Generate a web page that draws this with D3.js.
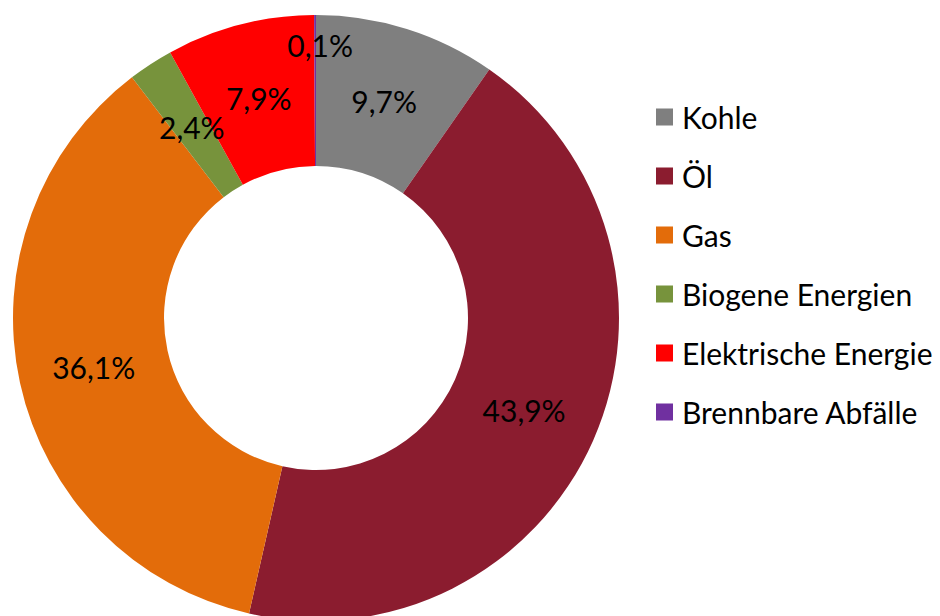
<!DOCTYPE html>
<html>
<head>
<meta charset="utf-8">
<script src="https://cdn.jsdelivr.net/npm/d3@7"></script>
<style>
  body { margin: 0; background: #fff; }
  svg { display: block; font-family: Lato, "Open Sans", sans-serif; }
</style>
</head>
<body>
<svg id="chart" width="940" height="616"></svg>
<script>
// Energieträger und Anteile (%)
const categories = ["Kohle", "Öl", "Gas", "Biogene Energien", "Elektrische Energie", "Brennbare Abfälle"];
const values = [9.7, 43.9, 36.1, 2.4, 7.9, 0.1];
const labels = ["9,7%", "43,9%", "36,1%", "2,4%", "7,9%", "0,1%"];
const palette = ["#7f7f7f", "#8b1c2f", "#e36c0a", "#77933c", "#ff0000", "#7030a0"];

const svg = d3.select("#chart"),
    cx = 316,
    cy = 318,
    outerR = 303,
    innerR = 152;

const data = categories.map((c, i) => ({ name: c, value: values[i], label: labels[i] }));

const color = d3.scaleOrdinal()
    .domain(categories)
    .range(palette);

const pie = d3.pie()
    .value(d => d.value)
    .sort(null);

const arc = d3.arc()
    .innerRadius(innerR)
    .outerRadius(outerR);

// labels of very thin slices are pushed outwards so they do not collide
const outerLabelArc = d3.arc()
    .innerRadius(outerR * 0.9)
    .outerRadius(outerR * 0.9);

const g = svg.append("g")
    .attr("transform", `translate(${cx}, ${cy})`);

const slices = pie(data);

g.selectAll("path")
    .data(slices)
    .join("path")
    .attr("d", arc)
    .attr("fill", d => color(d.data.name));

g.selectAll("text")
    .data(slices)
    .join("text")
    .attr("transform", d => {
        const p = d.data.value < 1 ? outerLabelArc.centroid(d) : arc.centroid(d);
        if (d.data.value < 1) p[0] += 5;
        return `translate(${p[0]}, ${p[1]})`;
    })
    .attr("text-anchor", "middle")
    .attr("dominant-baseline", "central")
    .style("font-size", "30px")
    .style("fill", "#000")
    .text(d => d.data.label);

// Legend
const legend = svg.append("g")
    .attr("transform", "translate(656, 117)");

categories.forEach((c, i) => {
    const row = legend.append("g")
        .attr("transform", `translate(0, ${i * 59})`);

    row.append("rect")
        .attr("y", -8.5)
        .attr("width", 17)
        .attr("height", 17)
        .attr("fill", color(c));

    row.append("text")
        .attr("x", 26)
        .attr("dominant-baseline", "central")
        .style("font-size", "30px")
        .style("fill", "#000")
        .text(c);
});
</script>
</body>
</html>
